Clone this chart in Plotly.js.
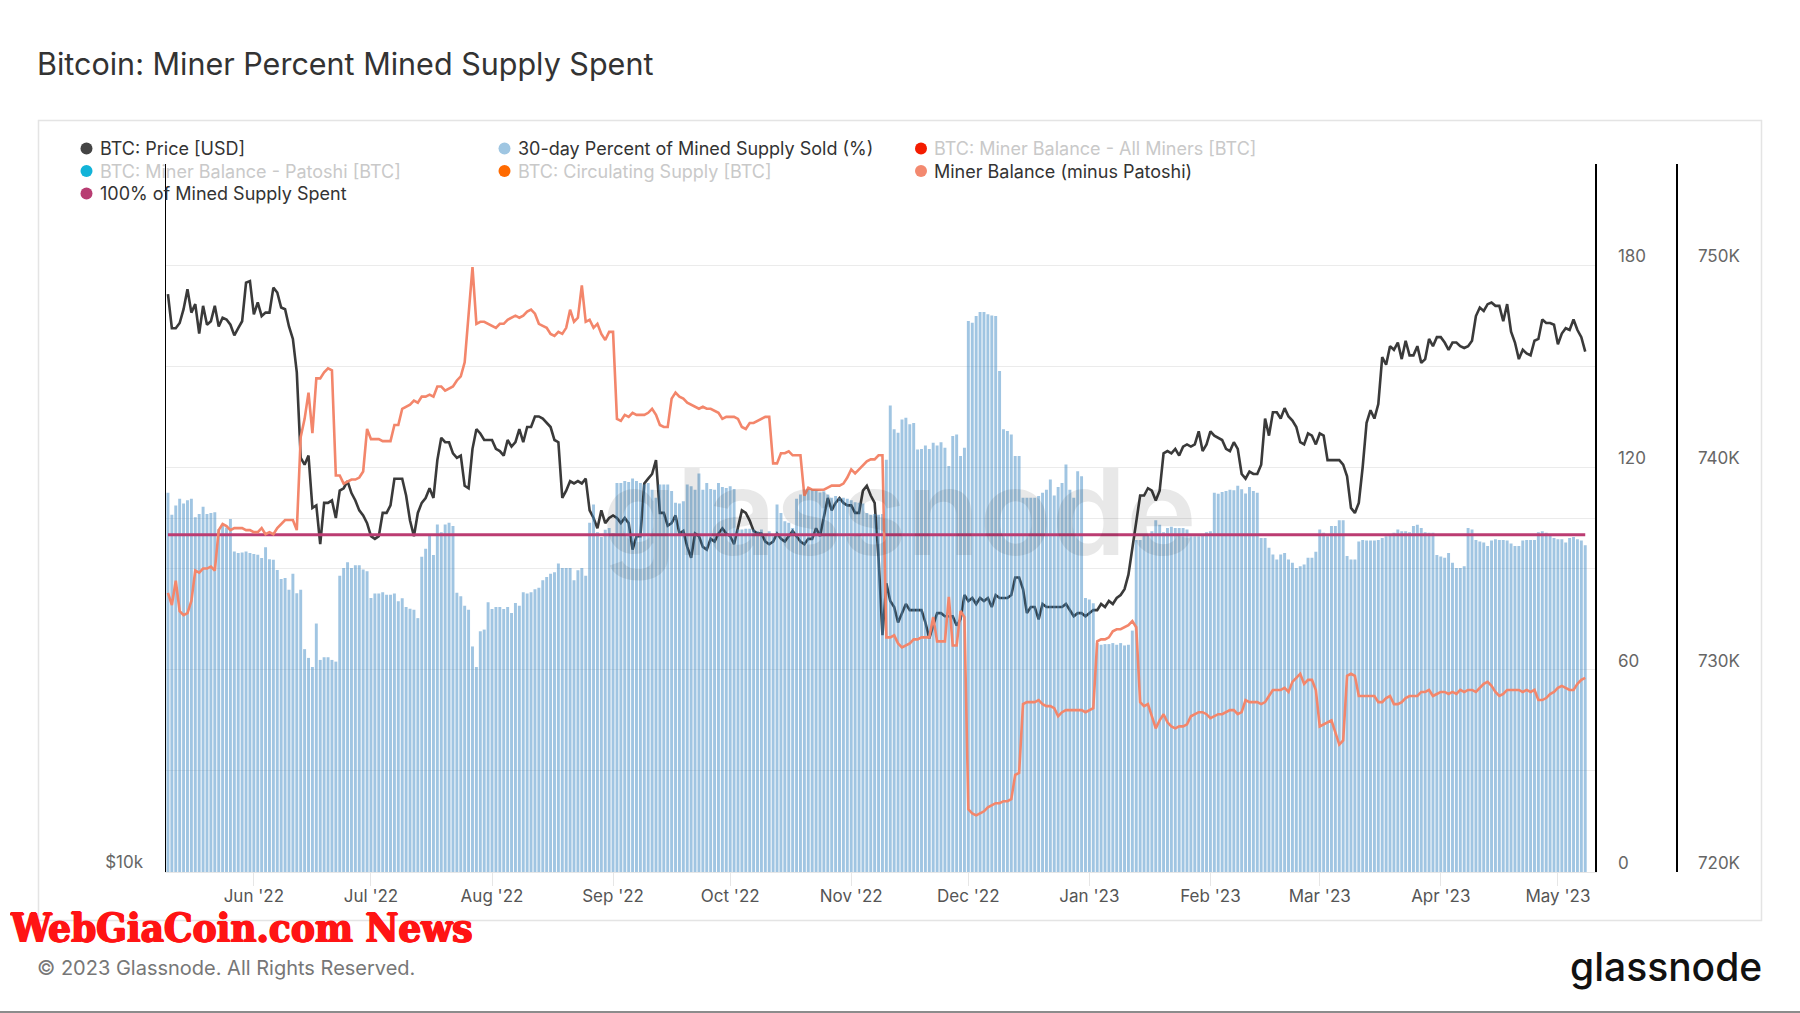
<!DOCTYPE html>
<html>
<head>
<meta charset="utf-8">
<script src="https://cdn.plot.ly/plotly-3.0.1.min.js"></script>
<style>
html,body{margin:0;padding:0;background:#ffffff;}
#chart{width:1800px;height:1013px;}
</style>
</head>
<body>
<div id="chart"></div>
<script>
// ---------------- DATA (daily, from 2022-05-10 to 2023-05-08) ----------------
const startDate = '2022-05-10';

// BTC: Price [USD], in thousands of USD
const priceK = [
  // May 2022 (10-31)
  31.0,29.0,29.0,29.3,30.1,31.3,29.9,30.4,28.7,30.3,29.2,29.4,30.3,29.1,29.6,29.5,29.2,28.6,29.0,29.4,31.7,31.8,
  // Jun 2022
  29.8,30.5,29.7,29.9,29.9,31.4,31.1,30.2,30.1,29.1,28.4,26.6,22.5,22.2,22.6,20.4,20.5,19.0,20.6,20.6,20.7,20.0,21.1,21.2,21.5,21.0,20.7,20.3,20.1,19.8,
  // Jul 2022
  19.3,19.2,19.3,20.2,20.2,20.5,21.6,21.6,21.6,20.9,19.9,19.3,20.2,20.6,20.8,21.2,20.8,22.4,23.4,23.2,23.2,22.7,22.5,22.6,21.3,21.2,22.9,23.8,23.6,23.3,23.3,
  // Aug 2022
  23.3,22.9,22.8,22.6,23.3,23.0,23.2,23.8,23.2,23.9,23.9,24.4,24.4,24.3,24.1,23.9,23.3,23.2,20.8,21.1,21.5,21.4,21.5,21.4,21.6,20.3,20.0,19.6,20.3,19.8,20.0,
  // Sep 2022
  20.1,20.0,19.8,20.0,19.8,18.8,19.3,19.3,21.4,21.6,21.8,22.4,20.2,20.2,19.7,19.8,20.1,19.4,19.5,18.9,18.5,19.4,19.3,18.9,18.8,19.2,19.1,19.4,19.6,19.4,
  // Oct 2022
  19.3,19.0,19.6,20.3,20.2,19.9,19.5,19.4,19.4,19.1,19.0,19.1,19.4,19.2,19.1,19.3,19.5,19.3,19.1,19.0,19.2,19.2,19.6,19.3,20.1,20.8,20.3,20.6,20.8,20.6,20.5,
  // Nov 2022
  20.5,20.2,20.2,21.1,21.3,20.9,20.6,18.5,15.9,17.6,17.0,16.8,16.3,16.6,16.9,16.7,16.7,16.7,16.7,16.3,15.8,16.2,16.6,16.6,16.5,16.5,16.5,16.2,16.4,17.2,
  // Dec 2022
  17.0,17.1,16.9,17.1,17.0,17.1,16.8,17.2,17.1,17.1,17.1,17.2,17.8,17.8,17.4,16.6,16.8,16.8,16.4,16.9,16.8,16.8,16.8,16.8,16.8,16.9,16.7,16.5,16.6,16.6,16.5,
  // Jan 2023
  16.6,16.7,16.7,16.9,16.8,17.0,16.9,17.1,17.2,17.4,17.9,18.8,19.9,20.9,20.9,21.2,21.1,20.7,21.1,22.7,22.8,22.7,22.9,22.6,23.0,23.1,23.0,23.1,23.7,22.8,23.1,
  // Feb 2023
  23.7,23.5,23.4,23.3,22.9,22.8,23.2,22.9,21.8,21.6,21.9,21.8,21.8,22.2,24.3,23.5,24.6,24.6,24.3,24.8,24.4,24.2,23.9,23.2,23.1,23.6,23.5,23.1,
  // Mar 2023
  23.6,23.5,22.4,22.4,22.4,22.4,22.2,21.7,20.4,20.2,20.6,22.1,24.1,24.7,24.3,25.0,27.4,27.0,28.0,27.8,28.2,27.3,28.3,27.5,27.5,28.0,27.1,27.3,28.4,28.0,28.5,
  // Apr 2023
  28.5,28.2,27.8,28.2,28.2,28.0,27.9,28.0,28.3,29.7,30.2,30.0,30.4,30.5,30.3,30.3,29.4,30.4,28.8,28.2,27.3,27.8,27.6,27.5,28.3,28.4,29.5,29.3,29.3,29.2,
  // May 2023 (1-8)
  28.1,28.7,29.0,28.9,29.5,28.9,28.5,27.7
];

// 30-day Percent of Mined Supply Sold (%)
const pctSold = [
  112.5,106.0,108.7,110.7,109.3,110.3,110.7,105.2,106.2,108.3,
  106.2,106.5,106.7,101.7,103.2,102.2,104.7,95.1,94.6,94.8,
  95.1,94.6,94.3,94.1,93.1,96.3,92.8,92.6,89.6,86.9,
  87.2,83.7,88.5,82.7,83.7,66.1,63.5,60.8,73.7,62.9,
  63.7,63.7,62.9,62.4,87.9,90.2,91.9,90.2,91.0,91.0,
  89.7,89.2,81.3,82.6,82.6,83.0,82.2,82.2,82.6,80.3,
  81.2,78.6,78.1,77.8,75.3,93.5,95.9,99.8,94.0,103.1,
  100.8,103.1,103.6,102.6,82.8,81.8,79.0,77.8,66.9,60.8,
  71.4,71.9,80.0,78.0,78.6,78.6,78.0,78.6,76.8,79.8,
  79.0,83.0,82.6,83.0,83.9,84.3,86.5,87.5,88.5,88.9,
  91.5,90.2,90.2,90.2,86.5,89.5,90.2,87.9,103.6,109.0,
  100.8,99.4,101.5,102.0,100.5,115.4,115.4,116.0,115.7,116.7,
  116.0,115.4,114.9,115.4,113.4,111.0,114.9,114.9,114.9,113.0,
  109.5,109.3,110.0,114.9,114.4,113.4,118.2,113.4,115.4,113.6,
  113.4,115.4,114.2,113.9,114.4,113.6,101.6,101.6,101.8,101.8,
  101.6,101.1,101.6,99.6,101.1,99.6,109.0,106.5,104.0,103.6,
  102.0,110.7,112.0,113.4,113.6,113.2,113.2,112.6,112.9,112.0,
  111.0,111.5,111.0,111.0,110.7,110.3,109.7,109.5,109.3,106.5,
  106.0,106.2,106.0,106.2,122.3,138.4,131.3,130.3,134.2,134.7,
  132.8,133.2,125.3,125.5,126.5,125.5,127.3,126.5,127.5,125.8,
  120.4,129.3,129.8,123.4,125.8,163.4,162.9,164.9,166.1,166.1,
  165.4,165.1,164.9,148.6,131.3,130.8,129.8,123.4,123.4,111.0,
  111.0,111.0,111.0,111.5,112.5,113.4,116.4,111.7,114.2,115.4,
  120.9,113.4,111.0,118.9,117.4,81.3,80.8,79.7,67.9,67.4,
  67.6,67.6,67.9,67.4,67.9,67.2,67.4,71.6,98.5,98.5,
  100.1,100.1,101.1,104.3,103.0,100.8,102.0,102.4,102.0,102.0,
  102.0,101.6,99.6,99.6,99.6,99.8,100.8,101.1,112.5,112.2,
  112.7,113.0,113.4,113.2,114.6,113.5,112.3,114.2,113.0,112.5,
  99.1,99.1,96.2,94.2,92.7,94.2,94.6,92.7,91.7,90.2,
  90.7,91.2,93.2,93.2,95.0,101.6,100.6,99.6,102.6,102.6,
  104.3,104.3,93.7,92.7,92.7,98.0,98.5,98.3,98.3,98.3,
  98.5,99.1,99.6,100.1,100.6,101.6,101.1,101.1,100.8,102.6,
  103.0,102.0,100.8,100.6,100.6,94.0,93.6,93.2,94.6,91.7,
  90.2,90.2,90.7,102.0,101.6,98.5,98.0,97.7,96.7,98.3,
  98.7,98.5,98.5,98.3,97.4,96.7,96.7,98.3,98.5,98.5,
  98.5,100.8,101.1,100.6,99.8,99.1,98.7,98.7,97.7,99.1,
  99.4,98.7,98.3,96.9
];

// Miner Balance (minus Patoshi), in thousands of BTC
const minerBalK = [
  733.8,733.2,734.4,732.9,732.7,732.8,733.4,734.9,734.8,735.0,
  735.0,735.1,734.9,736.9,737.2,737.1,736.9,737.0,737.0,737.0,
  736.9,736.9,736.8,736.8,737.0,736.7,736.8,736.7,737.0,737.2,
  737.4,737.4,737.4,736.9,741.5,742.4,743.7,741.7,744.4,744.4,
  744.7,744.9,744.8,739.6,739.6,739.2,739.3,739.4,739.4,739.5,
  739.8,741.9,741.4,741.4,741.4,741.3,741.3,741.3,742.1,742.1,
  742.9,743.0,743.1,743.3,743.2,743.5,743.5,743.6,743.5,744.0,
  744.0,743.8,743.9,744.0,744.3,744.5,745.2,747.7,749.9,747.1,
  747.2,747.2,747.1,747.0,746.9,747.1,747.1,747.3,747.4,747.5,
  747.4,747.5,747.7,747.8,747.6,747.1,747.0,746.9,746.6,746.5,
  746.7,746.6,746.9,747.8,747.2,747.4,749.0,747.2,747.3,746.9,
  747.1,746.6,746.3,746.7,746.7,742.4,742.3,742.6,742.5,742.7,
  742.6,742.6,742.6,742.7,742.9,742.6,742.1,742.0,742.0,743.4,
  743.7,743.5,743.4,743.2,743.1,743.0,742.9,743.0,742.9,742.9,
  742.8,742.7,742.4,742.5,742.5,742.5,742.4,742.0,741.9,742.2,
  742.2,742.3,742.4,742.5,742.5,740.2,740.2,740.7,740.7,740.8,
  740.6,740.6,740.6,738.6,739.0,738.9,738.9,738.9,738.9,739.0,
  739.1,739.1,739.1,739.2,739.5,739.9,739.7,739.9,740.1,740.3,
  740.4,740.4,740.6,740.6,731.6,731.6,731.7,731.3,731.1,731.2,
  731.3,731.5,731.5,731.6,731.6,731.6,732.6,731.4,731.4,731.4,
  733.6,731.2,731.2,732.9,732.6,723.1,722.9,722.8,722.9,723.0,
  723.2,723.3,723.4,723.4,723.5,723.5,723.6,724.8,724.9,728.3,
  728.4,728.4,728.4,728.5,728.3,728.2,728.2,728.1,727.7,727.9,
  728.0,728.0,728.0,728.0,728.0,727.9,728.0,728.1,731.4,731.5,
  731.5,731.6,731.9,732.0,732.0,732.1,732.2,732.4,732.1,728.4,
  728.2,728.3,727.7,727.1,727.5,727.8,727.4,727.2,727.1,727.2,
  727.2,727.3,727.7,727.8,727.9,727.9,727.8,727.6,727.7,727.8,
  727.8,727.9,728.0,728.0,727.8,727.9,728.5,728.4,728.4,728.4,
  728.3,728.4,728.7,729.0,729.0,729.0,729.1,728.9,729.4,729.6,
  729.8,729.3,729.5,729.5,729.0,727.2,727.3,727.4,727.5,726.9,
  726.3,726.5,729.7,729.8,729.7,728.7,728.7,728.7,728.7,728.7,
  728.4,728.4,728.6,728.7,728.3,728.3,728.4,728.6,728.7,728.7,
  728.7,728.9,728.9,729.0,728.7,728.8,728.9,728.9,728.8,728.9,
  728.8,729.0,728.9,729.0,729.0,728.9,729.1,729.3,729.4,729.2,
  728.9,728.7,728.8,729.0,729.0,729.0,729.0,728.9,729.0,728.9,
  729.0,728.5,728.5,728.6,728.8,728.9,729.1,729.2,729.1,729.0,
  729.0,729.3,729.5,729.6
];

// 100% of Mined Supply Spent reference level (%)
const fullSpentLevel = 100;

// Axis tick values / labels
const priceTickVals = [10, 20, 40];
const priceTickText = ['$10k', '', ''];
const pctTickVals = [0, 30, 60, 90, 120, 150, 180, 210];
const pctTickText = ['0', '', '60', '', '120', '', '180', ''];
const balTickVals = [720, 730, 740, 750];
const balTickText = ['720K', '730K', '740K', '750K'];

// Legend entries
const legendNames = [
  'BTC: Price [USD]', '30-day Percent of Mined Supply Sold (%)', 'BTC: Miner Balance - All Miners [BTC]',
  'BTC: Miner Balance - Patoshi [BTC]', 'BTC: Circulating Supply [BTC]', 'Miner Balance (minus Patoshi)',
  '100% of Mined Supply Spent'
];
const legendColors = ['#444444', '#9fc6e2', '#f41c00', '#12b3d8', '#ff6a00', '#f3896f', '#b83d72'];
const legendActive = [true, true, false, false, false, true, true];

// ---------------- BUILD ----------------
const dates = [];
{
  const d0 = new Date(startDate + 'T00:00:00Z');
  for (let i = 0; i < priceK.length; i++) {
    const d = new Date(d0.getTime() + i * 86400000);
    dates.push(d.toISOString().slice(0, 10));
  }
}

const W = 1800, H = 1013, ML = 166, MR = 80, MT = 164, MB = 141;
const PW = W - ML - MR, PH = H - MT - MB;
const px2x = px => (px - ML) / PW;
const px2y = py => (H - MB - py) / PH;
const FONT = 'Inter, "Noto Sans", sans-serif';

const traces = [
  {
    type: 'scatter', mode: 'lines', x: dates, y: priceK, yaxis: 'y',
    line: { color: '#3a3a3a', width: 2.6 }, hoverinfo: 'skip'
  },
  {
    type: 'bar', x: dates, y: pctSold, yaxis: 'y2',
    marker: { color: 'rgba(66,140,197,0.5)', line: { width: 0 } }, hoverinfo: 'skip'
  },
  {
    type: 'scatter', mode: 'lines', x: [dates[0], dates[dates.length - 1]],
    y: [fullSpentLevel, fullSpentLevel], yaxis: 'y2',
    line: { color: '#bb3c72', width: 3 }, hoverinfo: 'skip'
  },
  {
    type: 'scatter', mode: 'lines', x: dates, y: minerBalK, yaxis: 'y3',
    line: { color: '#f3866b', width: 2.6 }, hoverinfo: 'skip'
  }
];

const annotations = [];
const shapes = [];

// card border
shapes.push({
  type: 'rect', xref: 'paper', yref: 'paper', layer: 'below',
  x0: px2x(38.5), x1: px2x(1761.5), y0: px2y(120.5), y1: px2y(920.5),
  line: { color: '#e4e4e4', width: 1.5 }, fillcolor: 'rgba(0,0,0,0)'
});
// bottom rule of the image
shapes.push({
  type: 'line', xref: 'paper', yref: 'paper',
  x0: px2x(0), x1: px2x(1800), y0: px2y(1012), y1: px2y(1012),
  line: { color: '#8c8c8c', width: 2 }
});

// legend (3 columns)
const legColX = [97.5, 515.5, 932];
const legRowY = [148.5, 171, 193.5];
legendNames.forEach((name, i) => {
  const cx = legColX[i % 3], cy = legRowY[Math.floor(i / 3)];
  shapes.push({
    type: 'circle', xref: 'paper', yref: 'paper', xsizemode: 'pixel', ysizemode: 'pixel',
    xanchor: px2x(cx - 11), yanchor: px2y(cy), x0: -6, x1: 6, y0: -6, y1: 6,
    fillcolor: legendColors[i], line: { width: 0 }
  });
  annotations.push({
    xref: 'paper', yref: 'paper', x: px2x(cx), y: px2y(cy), xanchor: 'left', yanchor: 'middle',
    text: name, showarrow: false,
    font: { family: FONT, size: 18, color: legendActive[i] ? '#333333' : '#c9c9c9' }
  });
});

// watermark
annotations.push({
  xref: 'paper', yref: 'paper', x: px2x(899), y: px2y(512), xanchor: 'center', yanchor: 'middle',
  text: 'glassnode', showarrow: false,
  font: { family: FONT, size: 119, color: 'rgba(0,0,0,0.09)', weight: 600 }
});

// footer
annotations.push({
  xref: 'paper', yref: 'paper', x: px2x(35), y: px2y(968), xanchor: 'left', yanchor: 'middle',
  text: '© 2023 Glassnode. All Rights Reserved.', showarrow: false,
  font: { family: FONT, size: 20, color: '#777777' }
});
annotations.push({
  xref: 'paper', yref: 'paper', x: px2x(1764), y: px2y(966), xanchor: 'right', yanchor: 'middle',
  text: 'glassnode', showarrow: false,
  font: { family: FONT, size: 39, color: '#111111', weight: 500 }
});
annotations.push({
  xref: 'paper', yref: 'paper', x: px2x(8), y: px2y(927), xanchor: 'left', yanchor: 'middle',
  height: 38, valign: 'middle',
  text: '<b>WebGiaCoin.com News</b>', showarrow: false,
  font: {
    family: '"DejaVu Serif Condensed", "DejaVu Serif", serif', size: 40, color: '#ff1414',
    shadow: '0.9px 0 0 #ff1414, -0.9px 0 0 #ff1414, 0 0.9px 0 #ff1414, 0 -0.9px 0 #ff1414'
  }
});

const layout = {
  width: W, height: H,
  margin: { l: ML, r: MR, t: MT, b: MB, pad: 0 },
  paper_bgcolor: '#ffffff', plot_bgcolor: 'rgba(0,0,0,0)',
  showlegend: false, bargap: 0.25, hovermode: false,
  font: { family: FONT, color: '#555555' },
  title: {
    text: 'Bitcoin: Miner Percent Mined Supply Spent',
    font: { family: FONT, size: 30.5, color: '#333333' },
    xref: 'container', yref: 'container', x: 37 / W, y: 1 - 64 / H,
    xanchor: 'left', yanchor: 'middle'
  },
  xaxis: {
    type: 'date', domain: [0, px2x(1595)],
    range: ['2022-05-09 12:00', '2023-05-10 12:00'],
    tick0: '2022-06-01', dtick: 'M1', tickformat: "%b '%y",
    ticks: 'outside', ticklen: 13, tickcolor: '#e6e6e6', tickwidth: 1,
    ticklabelstandoff: -4,
    showgrid: false, zeroline: false,
    showline: true, linecolor: '#e6e6e6', linewidth: 1,
    tickfont: { family: FONT, size: 17, color: '#555555' }
  },
  yaxis: {
    type: 'log', range: [Math.log10(10), Math.log10(40)],
    tickmode: 'array', tickvals: priceTickVals, ticktext: priceTickText,
    showgrid: true, gridcolor: '#ebebeb', gridwidth: 1, zeroline: false,
    showline: true, linecolor: '#000000', linewidth: 1.5,
    ticks: '', ticklabelstandoff: 18, ticklabelshift: -10,
    tickfont: { family: FONT, size: 17, color: '#666666' }
  },
  yaxis2: {
    overlaying: 'y', side: 'right', anchor: 'x', range: [0, 210],
    tickmode: 'array', tickvals: pctTickVals, ticktext: pctTickText,
    showgrid: true, gridcolor: '#ebebeb', gridwidth: 1, zeroline: false,
    showline: true, linecolor: '#000000', linewidth: 1.5,
    ticks: '', ticklabelstandoff: 18, ticklabelshift: -9,
    tickfont: { family: FONT, size: 17, color: '#666666' }
  },
  yaxis3: {
    overlaying: 'y', side: 'right', anchor: 'free', position: px2x(1676), range: [720, 755],
    tickmode: 'array', tickvals: balTickVals, ticktext: balTickText,
    showgrid: false, zeroline: false,
    showline: true, linecolor: '#000000', linewidth: 1.5,
    ticks: '', ticklabelstandoff: 17, ticklabelshift: -9,
    tickfont: { family: FONT, size: 17, color: '#666666' }
  },
  shapes: shapes,
  annotations: annotations
};

Plotly.newPlot('chart', traces, layout, { staticPlot: true, displayModeBar: false });
</script>
</body>
</html>
